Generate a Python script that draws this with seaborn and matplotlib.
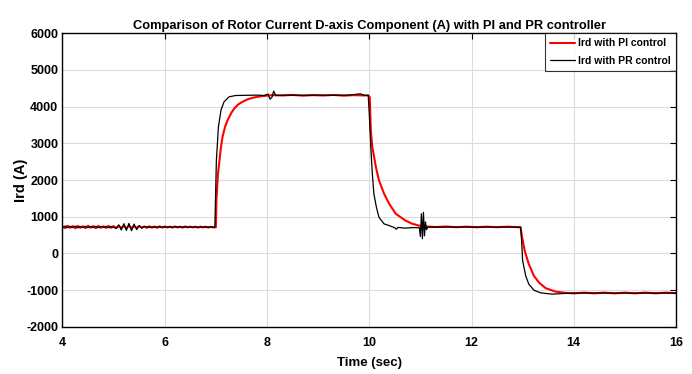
import matplotlib
matplotlib.use("Agg")
import matplotlib.pyplot as plt
import seaborn as sns
import pandas as pd

# PI controller response (red)
pi_time = [
    4.00, 4.05, 4.10, 4.15, 4.20, 4.25, 4.30, 4.35, 4.40, 4.45, 4.50, 4.55, 4.60, 4.65, 4.70,
    4.75, 4.80, 4.85, 4.90, 4.95, 5.00, 5.05, 5.10, 5.15, 5.20, 5.25, 5.30, 5.35, 5.40, 5.45,
    5.50, 5.55, 5.60, 5.65, 5.70, 5.75, 5.80, 5.85, 5.90, 5.95, 6.00, 6.05, 6.10, 6.15, 6.20,
    6.25, 6.30, 6.35, 6.40, 6.45, 6.50, 6.55, 6.60, 6.65, 6.70, 6.75, 6.80, 6.85, 6.90, 6.95,
    7.00, 7.01, 7.04, 7.07, 7.10, 7.13, 7.18, 7.23, 7.30, 7.36, 7.44, 7.52, 7.62, 7.72, 7.82,
    7.91, 8.00, 8.11, 8.3, 8.5, 8.7, 8.9, 9.1, 9.3, 9.5, 9.7, 9.9, 9.98,
    10.01, 10.03, 10.06, 10.13, 10.19, 10.29, 10.39, 10.52, 10.71, 10.84, 10.97,
    11.1, 11.3, 11.5, 11.7, 11.9, 12.1, 12.3, 12.5, 12.7, 12.9, 12.96,
    12.99, 13.04, 13.12, 13.22, 13.32, 13.45, 13.64, 13.84,
    14.0, 14.2, 14.4, 14.6, 14.8, 15.0, 15.2, 15.4, 15.6, 15.8, 16.0,
]
pi_ird = [
    730, 690, 755, 700, 745, 685, 750, 700, 740, 690, 755, 705, 745, 690, 750,
    700, 740, 695, 750, 700, 745, 690, 745, 705, 740, 695, 750, 700, 740, 700,
    745, 705, 735, 700, 740, 705, 735, 700, 740, 705, 735, 710, 730, 705, 735,
    710, 730, 705, 735, 710, 730, 710, 730, 705, 730, 710, 730, 705, 725, 710,
    715, 1443, 2150, 2536, 2900, 3172, 3450, 3628, 3820, 3948, 4060, 4128, 4195, 4238, 4265,
    4284, 4295, 4311, 4300, 4315, 4295, 4310, 4300, 4315, 4295, 4310, 4300, 4305,
    4250, 3355, 2899, 2352, 1989, 1626, 1352, 1079, 896, 810, 760,
    735, 720, 735, 715, 730, 715, 730, 715, 730, 720, 715,
    440, 77, -287, -607, -790, -943, -1036, -1071,
    -1085, -1065, -1085, -1065, -1085, -1065, -1085, -1065, -1085, -1065, -1080,
]

# PR controller response (black)
pr_time = [
    4.00, 4.05, 4.10, 4.15, 4.20, 4.25, 4.30, 4.35, 4.40, 4.45, 4.50, 4.55, 4.60, 4.65, 4.70,
    4.75, 4.80, 4.85, 4.90, 4.95, 5.00, 5.05, 5.10, 5.15, 5.20, 5.25, 5.30, 5.35, 5.40, 5.45,
    5.50, 5.55, 5.60, 5.70, 5.80, 6.0, 6.3, 6.6, 6.9, 6.98,
    7.01, 7.05, 7.10, 7.16, 7.26, 7.39, 7.6, 7.8, 7.95, 8.02, 8.06, 8.10, 8.13, 8.17,
    8.4, 8.7, 9.0, 9.3, 9.6, 9.83, 9.9, 9.98,
    10.00, 10.03, 10.06, 10.09, 10.14, 10.19, 10.29, 10.39, 10.5, 10.53, 10.56, 10.7, 10.85, 10.98,
    11.00, 11.02, 11.04, 11.06, 11.08, 11.10, 11.12, 11.15, 11.4, 11.8, 12.2, 12.6, 12.96,
    12.98, 13.00, 13.06, 13.12, 13.22, 13.35, 13.58, 13.77, 14.0, 14.5, 15.0, 15.5, 16.0,
]
pr_ird = [
    720, 745, 700, 740, 705, 745, 700, 735, 705, 740, 700, 735, 705, 740, 700,
    735, 710, 740, 700, 735, 710, 690, 780, 640, 810, 630, 820, 620, 800, 650,
    760, 690, 730, 715, 720, 720, 722, 718, 720, 713,
    2536, 3445, 3902, 4128, 4265, 4300, 4305, 4310, 4300, 4340, 4200, 4260, 4420, 4300,
    4310, 4305, 4310, 4305, 4310, 4345, 4305, 4300,
    3811, 2899, 2172, 1626, 1260, 986, 806, 760, 700, 660, 710, 690, 705, 700,
    460, 1080, 400, 1120, 480, 860, 650, 720, 718, 720, 718, 720, 713,
    350, -197, -607, -833, -997, -1071, -1107, -1090, -1078, -1075, -1078, -1075, -1078,
]

pi_df = pd.DataFrame({"time": pi_time, "ird": pi_ird})
pr_df = pd.DataFrame({"time": pr_time, "ird": pr_ird})

sns.set_style("white")
plt.rcParams["font.family"] = ["Liberation Sans", "DejaVu Sans"]
plt.rcParams["font.weight"] = "bold"
plt.rcParams["text.color"] = "black"
plt.rcParams["axes.labelcolor"] = "black"
plt.rcParams["axes.unicode_minus"] = False

fig = plt.figure(figsize=(6.92, 3.74), dpi=100)
ax = fig.add_axes([0.0903, 0.1257, 0.8866, 0.786])

sns.lineplot(data=pi_df, x="time", y="ird", ax=ax, color="#ff0000", linewidth=1.5,
             sort=False, estimator=None, label="Ird with PI control")
sns.lineplot(data=pr_df, x="time", y="ird", ax=ax, color="black", linewidth=0.9,
             sort=False, estimator=None, label="Ird with PR control")

ax.set_xlim(4, 16)
ax.set_ylim(-2000, 6000)
ax.set_xticks([4, 6, 8, 10, 12, 14, 16])
ax.set_yticks(range(-2000, 6001, 1000))
ax.grid(True, color="#dcdcdc", linewidth=0.8)
ax.tick_params(direction="in", top=True, right=True, length=4, width=0.8,
               labelsize=9, colors="black")
ax.tick_params(axis="x", pad=7)
ax.tick_params(axis="y", pad=3)
for lab in ax.get_xticklabels() + ax.get_yticklabels():
    lab.set_fontweight("bold")
for sp in ax.spines.values():
    sp.set_color("black")
    sp.set_linewidth(1.0)

ax.set_xlabel("Time (sec)", fontsize=9.5, fontweight="bold", labelpad=6)
ax.set_ylabel("Ird (A)", fontsize=10.5, fontweight="bold")
ax.yaxis.set_label_coords(-0.056, 0.5)
ax.set_title("Comparison of Rotor Current D-axis Component (A) with PI and PR controller",
             fontsize=9.3, fontweight="bold", pad=3)

leg = ax.legend(loc="upper right", fontsize=7.5, frameon=True, fancybox=False,
                borderaxespad=0.0, handlelength=2.4, handletextpad=0.3,
                borderpad=0.5, labelspacing=0.7)
leg.get_frame().set_edgecolor("black")
leg.get_frame().set_linewidth(0.8)
for t in leg.get_texts():
    t.set_fontweight("bold")

fig.savefig("out.png", dpi=100)
